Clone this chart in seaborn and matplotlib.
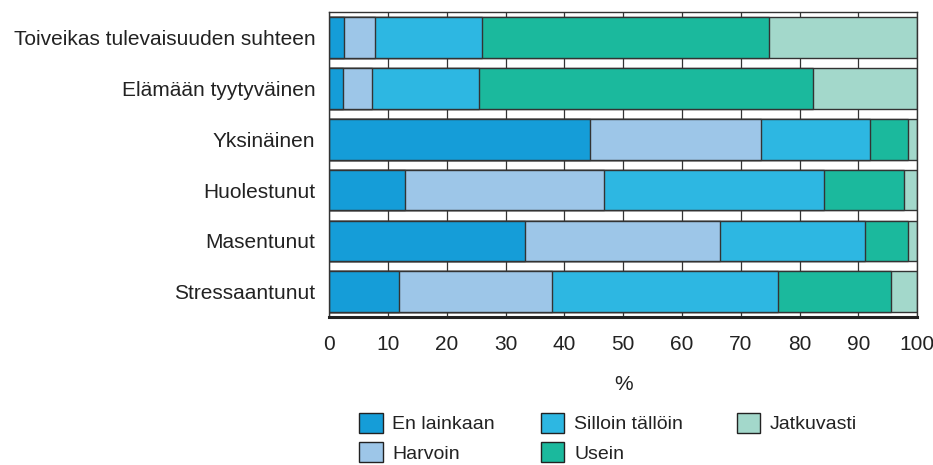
import matplotlib.pyplot as plt
import numpy as np
import pandas as pd
import seaborn as sns
from matplotlib.patches import Patch

items = ["Toiveikas tulevaisuuden suhteen", "Elämään tyytyväinen", "Yksinäinen",
         "Huolestunut", "Masentunut", "Stressaantunut"]
answers = ["En lainkaan", "Harvoin", "Silloin tällöin", "Usein", "Jatkuvasti"]

en_lainkaan = [2.5, 2.3, 44.3, 12.8, 33.3, 11.9]
harvoin = [5.3, 5.0, 29.1, 33.9, 33.2, 26.0]
silloin_tallöin = [18.2, 18.2, 18.5, 37.4, 24.6, 38.5]
usein = [48.8, 56.7, 6.6, 13.7, 7.3, 19.2]
jatkuvasti = [25.2, 17.8, 1.5, 2.2, 1.6, 4.4]

colors = ["#159dd8", "#9dc6e8", "#2db7e2", "#1bb99d", "#a3d8cb"]

df = pd.DataFrame({"item": items, "En lainkaan": en_lainkaan, "Harvoin": harvoin,
                   "Silloin tällöin": silloin_tallöin, "Usein": usein,
                   "Jatkuvasti": jatkuvasti})
cum = df[answers].cumsum(axis=1)
cum["item"] = items

sns.set_style("white")
plt.rcParams["font.family"] = ["Liberation Sans", "DejaVu Sans"]

fig = plt.figure(figsize=(9.33, 4.65), dpi=100)
ax = fig.add_axes([0.353, 0.318, 0.630, 0.656])

# stacked bars: draw cumulative totals from the last category backwards
for ans, col in reversed(list(zip(answers, colors))):
    sns.barplot(data=cum, x=ans, y="item", order=items, color=col, width=0.8,
                edgecolor="#333333", linewidth=1.0, saturation=1, ax=ax, zorder=2)

ax.set_xlim(0, 100)
ax.set_ylim(5.5, -0.5)
ax.set_xticks(np.arange(0, 101, 10))
ax.xaxis.grid(True, color="#333333", linewidth=0.9, zorder=0)
ax.set_axisbelow(True)
ax.tick_params(axis="both", labelsize=15, length=0, colors="#222222")
ax.tick_params(axis="x", pad=13)
ax.tick_params(axis="y", pad=10)
ax.set_ylabel("")
ax.set_xlabel("%", fontsize=15, labelpad=15, color="#222222")
for side in ["top", "right", "left"]:
    ax.spines[side].set_color("#333333")
    ax.spines[side].set_linewidth(1.0)
ax.spines["bottom"].set_color("#222222")
ax.spines["bottom"].set_linewidth(2.2)

# legend laid out in three columns, placed one by one
handles = [Patch(facecolor=c, edgecolor="#222222", linewidth=1.0) for c in colors]
groups = [(0, 2, 0.385), (2, 4, 0.580), (4, 5, 0.790)]
for start, stop, xpos in groups:
    leg = fig.legend(handles[start:stop], answers[start:stop], loc="upper left",
                     bbox_to_anchor=(xpos, 0.112), frameon=False, fontsize=14,
                     handlelength=1.2, handleheight=1.2, handletextpad=0.5,
                     labelspacing=0.45, borderaxespad=0, borderpad=0)
    for t in leg.get_texts():
        t.set_color("#222222")

fig.savefig("out.png", dpi=100)
